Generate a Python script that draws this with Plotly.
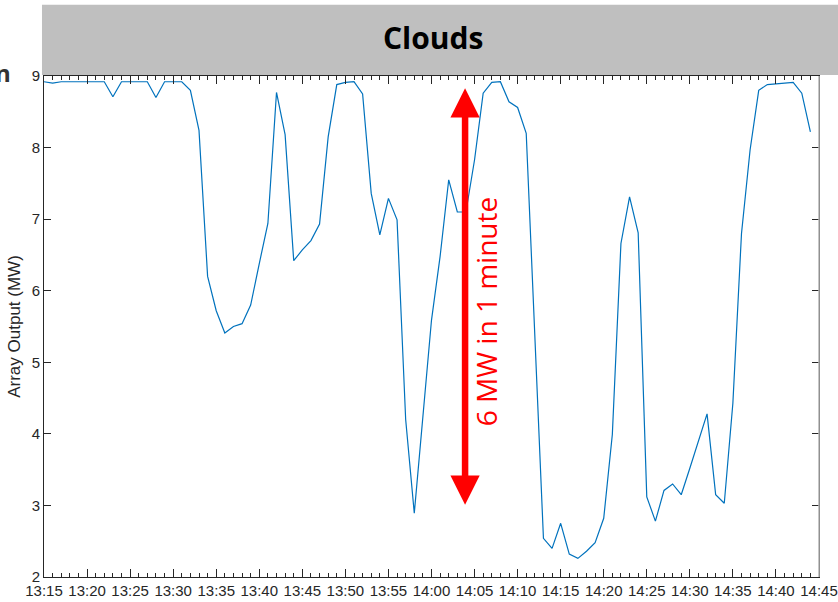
import pandas as pd
import plotly.graph_objects as go

# ---- data ----
start_time = "2019-01-01 13:15"
array_output_mw = [
    8.92, 8.90, 8.92, 8.92, 8.92, 8.92, 8.92, 8.92, 8.71, 8.92,
    8.92, 8.92, 8.92, 8.70, 8.92, 8.92, 8.92, 8.80, 8.24, 6.20,
    5.72, 5.41, 5.50, 5.54, 5.80, 6.38, 6.94, 8.77, 8.18, 6.42,
    6.57, 6.70, 6.93, 8.15, 8.88, 8.91, 8.92, 8.75, 7.36, 6.78,
    7.29, 6.99, 4.20, 2.89, 4.24, 5.59, 6.48, 7.55, 7.10, 7.10,
    7.83, 8.76, 8.91, 8.92, 8.64, 8.56, 8.20, 5.40, 2.54, 2.40,
    2.75, 2.32, 2.26, 2.36, 2.48, 2.82, 3.99, 6.66, 7.31, 6.81,
    3.12, 2.78, 3.21, 3.30, 3.15, 3.52, 3.89, 4.28, 3.15, 3.03,
    4.43, 6.80, 7.97, 8.80, 8.88, 8.89, 8.90, 8.91, 8.76, 8.22,
]
times = pd.date_range(start_time, periods=len(array_output_mw), freq="1min")

x_range = ["2019-01-01 13:15", "2019-01-01 14:45"]
y_range = [2, 9]
y_ticks = [2, 3, 4, 5, 6, 7, 8, 9]

title_text = "Clouds"
y_title = "Array Output (MW)"
annot_text = "6 MW in 1 minute"
arrow_time = "2019-01-01 14:03:54"
arrow_top = 8.83
arrow_bottom = 2.99
annot_time = "2019-01-01 14:06:20"
annot_value = 5.70

axis_color = "#262626"
tick_font = dict(family="Liberation Sans, Arial, sans-serif", size=15, color=axis_color)

fig = go.Figure()
fig.add_trace(go.Scatter(
    x=times, y=array_output_mw, mode="lines",
    line=dict(color="#0072bd", width=1.2), showlegend=False, hoverinfo="x+y",
))

fig.update_layout(
    width=838, height=602,
    margin=dict(l=44, r=19, t=76, b=25),
    paper_bgcolor="white", plot_bgcolor="white",
    xaxis=dict(
        range=x_range, type="date", tickformat="%H:%M", automargin=False,
        dtick=300000, tick0=x_range[0],
        ticks="inside", ticklen=8, tickwidth=1, tickcolor=axis_color,
        minor=dict(dtick=60000, tick0=x_range[0], ticks="inside", ticklen=4, tickcolor=axis_color),
        showline=True, linecolor=axis_color, linewidth=1, mirror="allticks",
        showgrid=False, zeroline=False, tickfont=tick_font,
    ),
    yaxis=dict(
        range=y_range, tickvals=y_ticks, automargin=False,
        ticks="inside", ticklen=7, tickwidth=1, tickcolor=axis_color,
        showline=True, linecolor=axis_color, linewidth=1, mirror="allticks",
        showgrid=False, zeroline=False, tickfont=tick_font,
        title=dict(text=y_title, font=dict(family="Liberation Sans, Arial, sans-serif", size=17, color=axis_color), standoff=6),
    ),
    shapes=[
        dict(type="rect", xref="paper", yref="paper", x0=-0.0026, x1=1.03, y0=1.002, y1=1.142,
             fillcolor="#bfbfbf", line=dict(width=0), layer="above"),
        dict(type="line", xref="paper", yref="paper", x0=1, x1=1, y0=0, y1=1,
             line=dict(color="#b4b4b4", width=1.5), layer="above"),
    ],
    annotations=[
        dict(text="<b>" + title_text + "</b>", xref="paper", yref="paper", x=0.502, y=1.077,
             showarrow=False, font=dict(family="Open Sans, sans-serif", size=30, color="black"),
             xanchor="center", yanchor="middle"),
        dict(text="<b>n</b>", xref="paper", yref="paper", x=-0.066, y=1.006,
             showarrow=False, font=dict(family="Open Sans, sans-serif", size=24, color="#333333"),
             xanchor="left", yanchor="middle"),
        dict(x=arrow_time, y=arrow_top, ax=arrow_time, ay=arrow_bottom,
             xref="x", yref="y", axref="x", ayref="y", text="", showarrow=True,
             arrowhead=2, startarrowhead=2, arrowside="end+start", arrowsize=0.9, startarrowsize=0.9,
             arrowwidth=6.5, arrowcolor="#ff0000"),
        dict(text=annot_text, x=annot_time, y=annot_value, xref="x", yref="y",
             showarrow=False, textangle=-90,
             font=dict(family="Open Sans, sans-serif", size=28, color="#ff0000"),
             xanchor="center", yanchor="middle"),
    ],
)

fig.write_html(
    "out.html",
    config={"displayModeBar": False},
    post_script="document.body.style.margin='0';document.body.style.overflow='hidden';",
)
